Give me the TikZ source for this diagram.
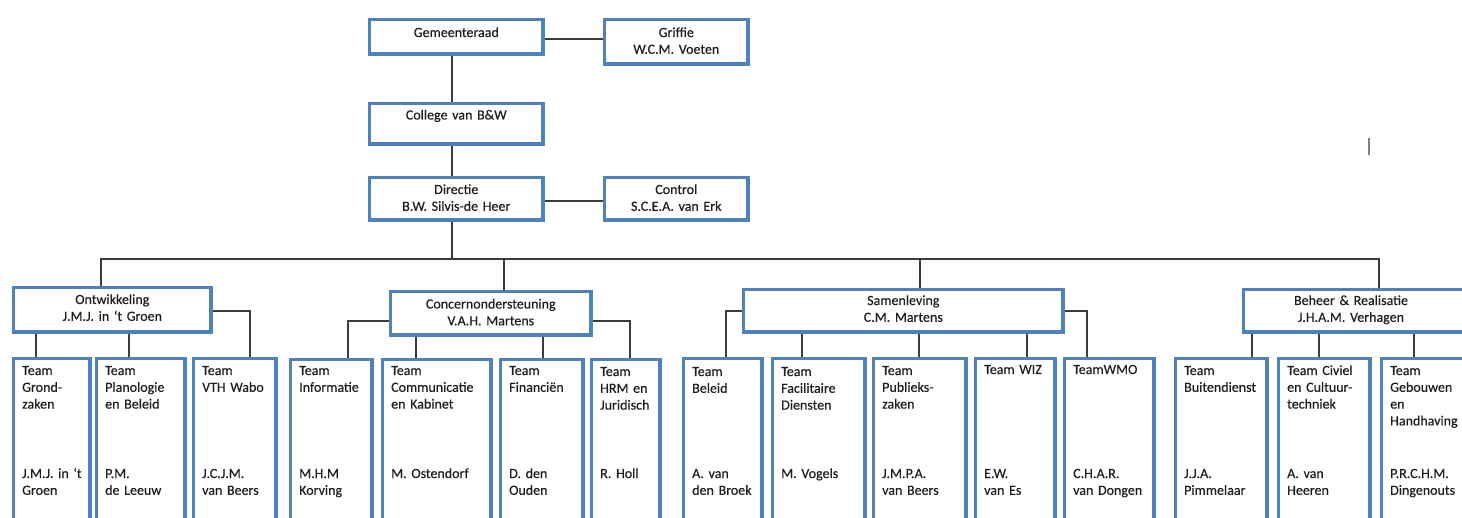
\documentclass[tikz,border=0pt]{standalone}
\usepackage{fontspec}
\setmainfont{Carlito}
\newfontfamily\lblfont{Carlito}[FakeBold=0.35]
\definecolor{boxblue}{RGB}{79,129,189}
\definecolor{linegray}{RGB}{60,60,60}
\definecolor{txtcol}{RGB}{30,30,30}
\tikzset{
  orgbox/.style={draw=boxblue, line width=3.6pt, inner sep=0pt, anchor=north west, fill=white},
  conn/.style={draw=linegray, line width=1.3pt},
  clab/.style={inner sep=0pt, anchor=base, text width=220pt, align=center, font=\lblfont\fontsize{14}{16.8}\selectfont, text=txtcol},
  tlab/.style={inner sep=0pt, anchor=base west, text width=110pt, align=left, xshift=10.2pt, font=\lblfont\fontsize{14}{16.8}\selectfont, text=txtcol},
}
\newcommand\orgbx[5]{\node[orgbox, minimum width=#4pt-#2pt-3.6pt, minimum height=#5pt-#3pt-3.6pt] (#1) at (#2+1.8,#3+1.8) {};}
\begin{document}
\begin{tikzpicture}[x=1pt,y=-1pt]
\useasboundingbox (0,0) rectangle (1462,518);
\clip (0,0) rectangle (1462,518);
\fill[white] (0,0) rectangle (1462,518);
% ---------- top boxes
\orgbx{gem}{366}{16}{543}{54}
\orgbx{griffie}{601}{16}{748}{64}
\orgbx{college}{366}{100}{543}{144}
\orgbx{dir}{366}{174}{543}{220}
\orgbx{control}{601}{174}{748}{220}
% ---------- level 2
\orgbx{ont}{10}{284}{211}{332}
\orgbx{con}{387}{288}{591}{335}
\orgbx{sam}{740}{286}{1063}{332}
\orgbx{beh}{1240}{286}{1478}{332}
% ---------- teams
\orgbx{t11}{10}{355}{90}{545}
\orgbx{t12}{93}{355}{185}{545}
\orgbx{t13}{190}{355}{276}{545}
\orgbx{t21}{287}{356}{372}{545}
\orgbx{t22}{379}{356}{491}{545}
\orgbx{t23}{497}{356}{583}{545}
\orgbx{t24}{588}{356}{660}{545}
\orgbx{t31}{680}{355}{762}{545}
\orgbx{t32}{769}{355}{865}{545}
\orgbx{t33}{870}{355}{966}{545}
\orgbx{t34}{972}{355}{1055}{545}
\orgbx{t35}{1061}{355}{1154}{545}
\orgbx{t41}{1172}{355}{1267}{545}
\orgbx{t42}{1275}{355}{1370}{545}
\orgbx{t43}{1378}{355}{1478}{545}
% ---------- connectors
\coordinate (bus) at (452,259);
\draw[conn] (gem.east |- 0,39) -- (griffie.west |- 0,39);
\draw[conn] (gem.south -| bus) -- (college.north -| bus);
\draw[conn] (college.south -| bus) -- (dir.north -| bus);
\draw[conn] (dir.east |- 0,201) -- (control.west |- 0,201);
\draw[conn] (dir.south -| bus) -- (bus);
\coordinate (busL) at (101,259);
\coordinate (busR) at (1379,259);
\draw[conn] (ont.north -| busL) -- (busL) -- (busR) -- (beh.north -| busR);
\draw[conn] (con.north -| 504,0) -- (504,259);
\draw[conn] (sam.north -| 920,0) -- (920,259);
% Ontwikkeling
\draw[conn] (ont.south -| 36,0) -- (t11.north -| 36,0);
\draw[conn] (ont.south -| 129,0) -- (t12.north -| 129,0);
\draw[conn] (ont.east |- 0,311) -| (t13.north -| 250,0);
% Concernondersteuning
\draw[conn] (con.west |- 0,321) -| (t21.north -| 348,0);
\draw[conn] (con.south -| 416,0) -- (t22.north -| 416,0);
\draw[conn] (con.south -| 543,0) -- (t23.north -| 543,0);
\draw[conn] (con.east |- 0,321) -| (t24.north -| 630,0);
% Samenleving
\draw[conn] (sam.west |- 0,311) -| (t31.north -| 726,0);
\draw[conn] (sam.south -| 802,0) -- (t32.north -| 802,0);
\draw[conn] (sam.south -| 919,0) -- (t33.north -| 919,0);
\draw[conn] (sam.south -| 1027,0) -- (t34.north -| 1027,0);
\draw[conn] (sam.east |- 0,311) -| (t35.north -| 1087,0);
% Beheer
\draw[conn] (beh.south -| 1252,0) -- (t41.north -| 1252,0);
\draw[conn] (beh.south -| 1319,0) -- (t42.north -| 1319,0);
\draw[conn] (beh.south -| 1414,0) -- (t43.north -| 1414,0);
% ---------- labels top
\node[clab] (lgem) at (gem.center |- 0,37) {Gemeenteraad};
\node[clab] (lgri) at (griffie.center |- 0,37) {Griffie\\W.C.M. Voeten};
\node[clab] (lcol) at (college.center |- 0,119.5) {College van B\&W};
\node[clab] (ldir) at (dir.center |- 0,194) {Directie\\B.W. Silvis-de Heer};
\node[clab] (lcon) at (control.center |- 0,194) {Control\\S.C.E.A. van Erk};
\node[clab] (lont) at (ont.center |- 0,304) {Ontwikkeling\\J.M.J. in ‘t Groen};
\node[clab] (lconc) at (con.center |- 0,308.5) {Concernondersteuning\\V.A.H. Martens};
\node[clab] (lsam) at (sam.center |- 0,305) {Samenleving\\C.M. Martens};
\node[clab] (lbeh) at (1351,305) {Beheer \& Realisatie\\J.H.A.M. Verhagen};
% ---------- team labels
\node[tlab] (a11) at (t11.west |- 0,375) {Team\\Grond-\\zaken};
\node[tlab] (b11) at (t11.west |- 0,478) {J.M.J. in ‘t\\Groen};
\node[tlab] (a12) at (t12.west |- 0,375) {Team\\Planologie\\en Beleid};
\node[tlab] (b12) at (t12.west |- 0,478) {P.M.\\de Leeuw};
\node[tlab] (a13) at (t13.west |- 0,375) {Team\\VTH Wabo};
\node[tlab] (b13) at (t13.west |- 0,478) {J.C.J.M.\\van Beers};
\node[tlab] (a21) at (t21.west |- 0,375) {Team\\Informatie};
\node[tlab] (b21) at (t21.west |- 0,478) {M.H.M\\Korving};
\node[tlab] (a22) at (t22.west |- 0,375) {Team\\Communicatie\\en Kabinet};
\node[tlab] (b22) at (t22.west |- 0,478) {M. Ostendorf};
\node[tlab] (a23) at (t23.west |- 0,375) {Team\\Financiën};
\node[tlab] (b23) at (t23.west |- 0,478) {D. den\\Ouden};
\node[tlab] (a24) at (t24.west |- 0,376) {Team\\HRM en\\Juridisch};
\node[tlab] (b24) at (t24.west |- 0,478) {R. Holl};
\node[tlab] (a31) at (t31.west |- 0,376) {Team\\Beleid};
\node[tlab] (b31) at (t31.west |- 0,478) {A. van\\den Broek};
\node[tlab] (a32) at (t32.west |- 0,376) {Team\\Facilitaire\\Diensten};
\node[tlab] (b32) at (t32.west |- 0,478) {M. Vogels};
\node[tlab] (a33) at (t33.west |- 0,375) {Team\\Publieks-\\zaken};
\node[tlab] (b33) at (t33.west |- 0,478) {J.M.P.A.\\van Beers};
\node[tlab] (a34) at (t34.west |- 0,374) {Team WIZ};
\node[tlab] (b34) at (t34.west |- 0,478) {E.W.\\van Es};
\node[tlab] (a35) at (t35.west |- 0,374) {TeamWMO};
\node[tlab] (b35) at (t35.west |- 0,478) {C.H.A.R.\\van Dongen};
\node[tlab] (a41) at (t41.west |- 0,375) {Team\\Buitendienst};
\node[tlab] (b41) at (t41.west |- 0,478) {J.J.A.\\Pimmelaar};
\node[tlab] (a42) at (t42.west |- 0,375) {Team Civiel\\en Cultuur-\\techniek};
\node[tlab] (b42) at (t42.west |- 0,478) {A. van\\Heeren};
\node[tlab] (a43) at (t43.west |- 0,375) {Team\\Gebouwen\\en\\Handhaving};
\node[tlab] (b43) at (t43.west |- 0,478) {P.R.C.H.M.\\Dingenouts};
% stray mark
\coordinate (markA) at (1369,138);
\coordinate (markB) at (1369,155);
\draw[draw=gray, line width=1.5pt] (markA) -- (markB);
\end{tikzpicture}
\end{document}
